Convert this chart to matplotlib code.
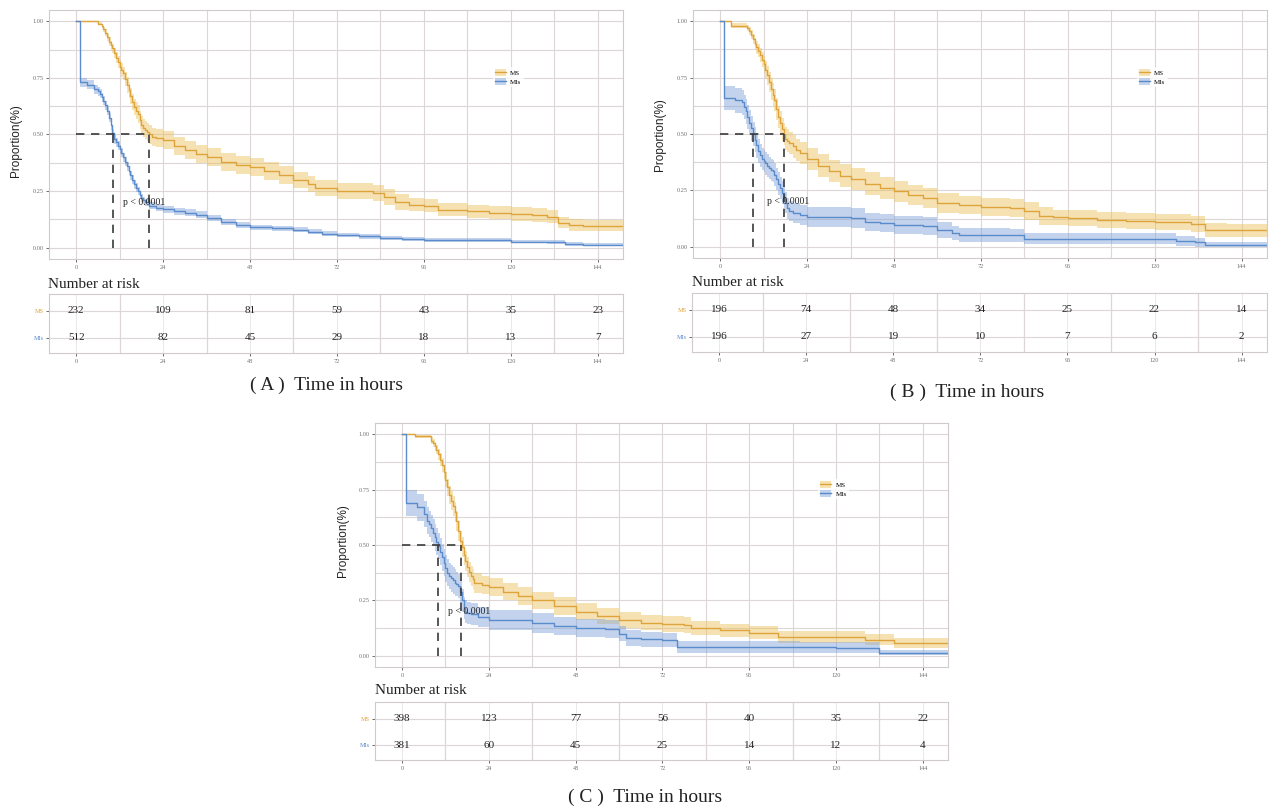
"""Kaplan-Meier style panels (A, B, C) with number-at-risk tables."""

import matplotlib
matplotlib.use("Agg")
import matplotlib.pyplot as plt
from matplotlib.lines import Line2D
from matplotlib.patches import Patch

W, H = 1269, 808

# ---- panel A ----
A_MS_t = [0, 1, 6, 7, 7.5, 8, 8.5, 9, 9.5, 10,
          10.5, 11, 11.5, 12, 12.5, 13, 13.5, 14, 14.5, 15,
          15.5, 16, 16.5, 17, 17.5, 18, 18.5, 19, 19.5, 20,
          21, 22, 24, 27, 30, 33, 36, 40, 44, 48,
          52, 56, 60, 64, 66, 72, 78, 82, 85, 88,
          92, 96, 100, 108, 114, 120, 126, 130, 133, 136,
          140, 151]
A_MS_s = [1.0, 1.0, 0.99, 0.98, 0.965, 0.95, 0.93, 0.91, 0.895, 0.88,
          0.86, 0.84, 0.82, 0.80, 0.785, 0.77, 0.745, 0.72, 0.695, 0.67,
          0.645, 0.62, 0.605, 0.59, 0.565, 0.54, 0.53, 0.52, 0.51, 0.50,
          0.49, 0.485, 0.475, 0.45, 0.43, 0.415, 0.40, 0.38, 0.365, 0.355,
          0.34, 0.32, 0.30, 0.28, 0.265, 0.252, 0.25, 0.24, 0.225, 0.20,
          0.19, 0.186, 0.168, 0.16, 0.155, 0.15, 0.145, 0.137, 0.11, 0.10,
          0.097, 0.097]
A_MS_ci = [0, 0.005, 0.008, 0.01, 0.012, 0.015, 0.018, 0.02, 0.02, 0.022,
           0.024, 0.025, 0.027, 0.03, 0.03, 0.03, 0.032, 0.035, 0.035, 0.035,
           0.035, 0.035, 0.038, 0.04, 0.04, 0.04, 0.04, 0.04, 0.04, 0.04,
           0.04, 0.04, 0.04, 0.04, 0.04, 0.04, 0.04, 0.04, 0.04, 0.04,
           0.04, 0.04, 0.035, 0.035, 0.035, 0.035, 0.035, 0.035, 0.035, 0.035,
           0.03, 0.03, 0.03, 0.03, 0.03, 0.03, 0.03, 0.03, 0.025, 0.025,
           0.025, 0.025]
A_MI_t = [0, 1, 3, 5, 6, 6.5, 7, 7.5, 8, 8.5,
          9, 9.5, 10, 10.5, 11, 11.5, 12, 12.5, 13, 13.5,
          14, 14.5, 15, 15.5, 16, 16.5, 17, 17.5, 18, 18.5,
          19, 20, 22, 24, 27, 30, 33, 36, 40, 44,
          48, 54, 60, 64, 68, 72, 78, 84, 90, 96,
          108, 120, 130, 135, 140, 151]
A_MI_s = [1.0, 0.73, 0.72, 0.70, 0.69, 0.68, 0.665, 0.65, 0.63, 0.605,
          0.575, 0.54, 0.505, 0.48, 0.465, 0.45, 0.435, 0.42, 0.40, 0.38,
          0.36, 0.34, 0.32, 0.30, 0.28, 0.265, 0.25, 0.232, 0.22, 0.21,
          0.20, 0.185, 0.177, 0.17, 0.16, 0.155, 0.145, 0.13, 0.115, 0.10,
          0.09, 0.085, 0.08, 0.07, 0.062, 0.057, 0.05, 0.044, 0.038, 0.035,
          0.033, 0.027, 0.025, 0.016, 0.013, 0.013]
A_MI_ci = [0, 0.02, 0.02, 0.02, 0.02, 0.02, 0.02, 0.02, 0.02, 0.02,
           0.02, 0.02, 0.02, 0.02, 0.02, 0.02, 0.02, 0.02, 0.02, 0.02,
           0.02, 0.02, 0.02, 0.02, 0.02, 0.019, 0.018, 0.017, 0.017, 0.016,
           0.016, 0.016, 0.016, 0.016, 0.016, 0.015, 0.015, 0.014, 0.013, 0.012,
           0.012, 0.012, 0.011, 0.011, 0.01, 0.01, 0.01, 0.009, 0.009, 0.008,
           0.008, 0.008, 0.008, 0.007, 0.007, 0.007]
A_medians = [10.1, 20.2]  # MIs, MS
A_MS_risk = [232, 109, 81, 59, 43, 35, 23]
A_MI_risk = [512, 82, 45, 29, 18, 13, 7]

# ---- panel B ----
B_MS_t = [0, 1, 3, 7.5, 8, 8.5, 9, 9.5, 10, 10.5,
          11, 11.5, 12, 12.5, 13, 13.5, 14, 14.5, 15, 15.5,
          16, 16.5, 17, 17.5, 18, 18.5, 19, 20, 21, 22,
          24, 27, 30, 33, 36, 40, 44, 48, 52, 56,
          60, 66, 72, 80, 84, 88, 92, 96, 104, 112,
          120, 130, 134, 140, 151]
B_MS_s = [1.0, 1.0, 0.98, 0.97, 0.955, 0.94, 0.92, 0.90, 0.885, 0.87,
          0.85, 0.83, 0.81, 0.785, 0.76, 0.73, 0.70, 0.675, 0.65, 0.61,
          0.575, 0.55, 0.52, 0.50, 0.48, 0.47, 0.46, 0.445, 0.43, 0.415,
          0.39, 0.36, 0.335, 0.315, 0.30, 0.28, 0.26, 0.245, 0.23, 0.215,
          0.195, 0.185, 0.178, 0.173, 0.16, 0.138, 0.13, 0.127, 0.117, 0.114,
          0.111, 0.102, 0.075, 0.072, 0.072]
B_MS_ci = [0, 0.005, 0.012, 0.015, 0.018, 0.02, 0.022, 0.025, 0.028, 0.03,
           0.032, 0.035, 0.038, 0.04, 0.042, 0.045, 0.048, 0.05, 0.05, 0.05,
           0.05, 0.05, 0.05, 0.05, 0.05, 0.05, 0.05, 0.05, 0.05, 0.05,
           0.05, 0.05, 0.05, 0.05, 0.05, 0.05, 0.05, 0.045, 0.045, 0.045,
           0.045, 0.04, 0.04, 0.04, 0.04, 0.04, 0.035, 0.035, 0.035, 0.035,
           0.035, 0.035, 0.03, 0.03, 0.03]
B_MI_t = [0, 1, 4, 6, 6.5, 7, 7.5, 8, 8.5, 9,
          9.5, 10, 10.5, 11, 11.5, 12, 12.5, 13, 13.5, 14,
          14.5, 15, 15.5, 16, 16.5, 17, 17.5, 18, 18.5, 19,
          20, 22, 24, 36, 40, 44, 48, 56, 60, 64,
          66, 80, 84, 120, 126, 131, 134, 151]
B_MI_s = [1.0, 0.66, 0.65, 0.64, 0.62, 0.60, 0.575, 0.55, 0.525, 0.50,
          0.475, 0.45, 0.425, 0.405, 0.39, 0.38, 0.37, 0.36, 0.35, 0.34,
          0.335, 0.32, 0.30, 0.28, 0.26, 0.24, 0.22, 0.195, 0.17, 0.16,
          0.15, 0.14, 0.133, 0.128, 0.111, 0.105, 0.098, 0.09, 0.075, 0.062,
          0.053, 0.05, 0.035, 0.035, 0.027, 0.02, 0.009, 0.009]
B_MI_ci = [0, 0.055, 0.055, 0.055, 0.055, 0.055, 0.055, 0.055, 0.055, 0.055,
           0.055, 0.055, 0.055, 0.05, 0.05, 0.05, 0.05, 0.05, 0.05, 0.05,
           0.05, 0.05, 0.05, 0.05, 0.05, 0.05, 0.048, 0.047, 0.046, 0.045,
           0.045, 0.045, 0.045, 0.045, 0.04, 0.04, 0.04, 0.04, 0.035, 0.03,
           0.03, 0.03, 0.025, 0.025, 0.022, 0.02, 0.01, 0.01]
B_medians = [9.0, 17.5]
B_MS_risk = [196, 74, 48, 34, 25, 22, 14]
B_MI_risk = [196, 27, 19, 10, 7, 6, 2]

# ---- panel C ----
C_MS_t = [0, 1, 3.5, 8, 8.5, 9, 9.5, 10, 10.5, 11,
          11.5, 12, 12.5, 13, 13.5, 14, 14.5, 15, 15.5, 16,
          16.5, 17, 17.5, 18, 18.5, 19, 19.5, 20, 22, 24,
          28, 32, 36, 42, 48, 54, 60, 66, 72, 78,
          80, 88, 96, 104, 120, 128, 136, 151]
C_MS_s = [1.0, 1.0, 0.99, 0.97, 0.96, 0.945, 0.93, 0.91, 0.885, 0.86,
          0.83, 0.795, 0.76, 0.725, 0.70, 0.675, 0.65, 0.61, 0.565, 0.52,
          0.49, 0.455, 0.43, 0.40, 0.38, 0.36, 0.345, 0.33, 0.32, 0.31,
          0.29, 0.27, 0.25, 0.225, 0.20, 0.18, 0.162, 0.15, 0.145, 0.14,
          0.126, 0.115, 0.104, 0.086, 0.086, 0.072, 0.058, 0.058]
C_MS_ci = [0, 0.005, 0.008, 0.015, 0.018, 0.02, 0.022, 0.025, 0.028, 0.03,
           0.032, 0.035, 0.038, 0.04, 0.042, 0.045, 0.045, 0.045, 0.045, 0.045,
           0.045, 0.045, 0.045, 0.045, 0.045, 0.045, 0.045, 0.045, 0.04, 0.04,
           0.04, 0.04, 0.04, 0.04, 0.04, 0.035, 0.035, 0.035, 0.035, 0.035,
           0.03, 0.03, 0.03, 0.028, 0.028, 0.025, 0.022, 0.022]
C_MI_t = [0, 1, 4, 6, 7, 7.5, 8, 8.5, 9, 9.5,
          10, 10.5, 11, 11.5, 12, 12.5, 13, 13.5, 14, 14.5,
          15, 15.5, 16, 16.5, 17, 17.5, 18, 19, 21, 24,
          30, 36, 42, 48, 56, 60, 62, 66, 72, 76,
          96, 110, 120, 128, 132, 151]
C_MI_s = [1.0, 0.69, 0.67, 0.64, 0.61, 0.595, 0.575, 0.555, 0.535, 0.515,
          0.495, 0.47, 0.445, 0.42, 0.395, 0.375, 0.36, 0.35, 0.34, 0.33,
          0.325, 0.315, 0.29, 0.25, 0.215, 0.20, 0.195, 0.19, 0.175, 0.162,
          0.16, 0.149, 0.135, 0.126, 0.12, 0.10, 0.08, 0.075, 0.072, 0.04,
          0.04, 0.038, 0.036, 0.036, 0.014, 0.014]
C_MI_ci = [0, 0.06, 0.06, 0.06, 0.06, 0.06, 0.06, 0.06, 0.06, 0.06,
           0.06, 0.06, 0.06, 0.06, 0.06, 0.06, 0.06, 0.06, 0.06, 0.06,
           0.055, 0.055, 0.055, 0.05, 0.05, 0.05, 0.05, 0.05, 0.045, 0.045,
           0.045, 0.045, 0.04, 0.04, 0.04, 0.035, 0.035, 0.035, 0.03, 0.025,
           0.025, 0.025, 0.025, 0.025, 0.012, 0.012]
C_medians = [9.8, 16.3]
C_MS_risk = [398, 123, 77, 56, 40, 35, 22]
C_MI_risk = [381, 60, 45, 25, 14, 12, 4]

risk_times = [0, 24, 48, 72, 96, 120, 144]
group_names = ["MS", "MIs"]
y_ticks = [0.0, 0.25, 0.5, 0.75, 1.0]

ORANGE, ORANGE_FILL = "#DDA43C", "#EDBE55"
BLUE, BLUE_FILL = "#5A8BCB", "#7A9FDA"
GRID = "#DCD6D6"
SERIF = "Liberation Serif"


def px_rect(left, top, right, bottom):
    return [left / W, 1 - bottom / H, (right - left) / W, (bottom - top) / H]


def style_axes(ax):
    ax.set_xlim(-7.5, 151)
    ax.set_xticks(risk_times)
    ax.set_xticks([12, 36, 60, 84, 108, 132], minor=True)
    ax.grid(True, which="both", color=GRID, lw=0.8)
    ax.set_axisbelow(True)
    for sp in ax.spines.values():
        sp.set_color("#D0CACA")
        sp.set_linewidth(0.8)
    ax.tick_params(which="major", length=2, width=0.6, color="#555555", labelsize=4.5,
                   labelcolor="#707070", pad=2)
    ax.tick_params(which="minor", length=0)
    for lab in ax.get_xticklabels() + ax.get_yticklabels():
        lab.set_fontfamily(SERIF)


def draw_curve(ax, t, s, ci, color, fill, alpha):
    lo = [max(v - c, 0) for v, c in zip(s, ci)]
    hi = [min(v + c, 1) for v, c in zip(s, ci)]
    ax.fill_between(t, lo, hi, step="post", color=fill, alpha=alpha, lw=0)
    ax.step(t, s, where="post", color=color, lw=1.0)


def draw_panel(letter, plot_rect, table_rect, ms, mi, medians, risks, ylabel_xy,
               nar_xy, cap_xy):
    fig = plt.gcf()
    ax = fig.add_axes(px_rect(*plot_rect))
    draw_curve(ax, *ms, ORANGE, ORANGE_FILL, 0.45)
    draw_curve(ax, *mi, BLUE, BLUE_FILL, 0.45)
    ax.set_ylim(-0.05, 1.05)
    ax.set_yticks(y_ticks)
    ax.set_yticks([0.125, 0.375, 0.625, 0.875], minor=True)
    ax.set_yticklabels(["0.00", "0.25", "0.50", "0.75", "1.00"])
    style_axes(ax)

    # median lines
    dash = dict(color="#3A3A3A", lw=1.2, ls=(0, (5, 4)))
    ax.plot([0, max(medians)], [0.5, 0.5], **dash)
    for m in medians:
        ax.plot([m, m], [0, 0.5], **dash)
    ax.text(12.8, 0.2, "p < 0.0001", fontsize=7, family=SERIF, va="center", color="#222222")

    handles = [(Patch(color=ORANGE_FILL, alpha=0.45, lw=0), Line2D([], [], color=ORANGE, lw=1)),
               (Patch(color=BLUE_FILL, alpha=0.45, lw=0), Line2D([], [], color=BLUE, lw=1))]
    leg = ax.legend(handles, group_names, loc="center", bbox_to_anchor=(0.8, 0.73),
                    prop={"family": SERIF, "size": 5}, frameon=True, handlelength=1.6,
                    handleheight=1.2, borderpad=0.3, labelspacing=0.25, handletextpad=0.6)
    leg.get_frame().set_edgecolor("none")
    leg.get_frame().set_facecolor("white")

    fig.text(ylabel_xy[0] / W, 1 - ylabel_xy[1] / H, "Proportion(%)", rotation=90,
             ha="center", va="center", fontsize=8.5, family="Liberation Sans",
             color="#222222")

    # risk table
    tb = fig.add_axes(px_rect(*table_rect))
    style_axes(tb)
    tb.set_ylim(0.44, 2.63)
    tb.set_yticks([2, 1])
    tb.set_yticklabels(group_names)
    tb.grid(True, which="major", axis="x", color="#ECE8E8", lw=0.7)
    tb.grid(True, which="minor", axis="x", color=GRID, lw=0.9)
    for lab, c in zip(tb.get_yticklabels(), [ORANGE, BLUE]):
        lab.set_color(c)
        lab.set_fontsize(4.5)
    for x, a, b in zip(risk_times, risks[0], risks[1]):
        tb.text(x, 2, str(a), ha="center", va="center", fontsize=8, family=SERIF,
                color="#222222")
        tb.text(x, 1, str(b), ha="center", va="center", fontsize=8, family=SERIF,
                color="#222222")

    fig.text(nar_xy[0] / W, 1 - nar_xy[1] / H, "Number at risk", ha="left", va="center",
             fontsize=11, family=SERIF, color="#222222")
    fig.text(cap_xy[0] / W, 1 - cap_xy[1] / H, f"( {letter} )  Time in hours", ha="center",
             va="center", fontsize=14, family=SERIF, color="#222222")


def main():
    plt.figure(figsize=(W / 100, H / 100), dpi=100)

    draw_panel("A", (49, 10, 623, 259), (49, 294, 623, 353),
               (A_MS_t, A_MS_s, A_MS_ci), (A_MI_t, A_MI_s, A_MI_ci), A_medians,
               (A_MS_risk, A_MI_risk), (16, 141), (48, 284), (327, 385))
    draw_panel("B", (693, 10, 1267, 258), (692, 293, 1267, 352),
               (B_MS_t, B_MS_s, B_MS_ci), (B_MI_t, B_MI_s, B_MI_ci), B_medians,
               (B_MS_risk, B_MI_risk), (660, 135), (692, 283), (967, 392))
    draw_panel("C", (375, 423, 948, 667), (375, 702, 948, 760),
               (C_MS_t, C_MS_s, C_MS_ci), (C_MI_t, C_MI_s, C_MI_ci), C_medians,
               (C_MS_risk, C_MI_risk), (343, 541), (375, 690), (645, 797))

    plt.savefig("out.png", dpi=100)
    plt.close()


if __name__ == "__main__":
    main()
